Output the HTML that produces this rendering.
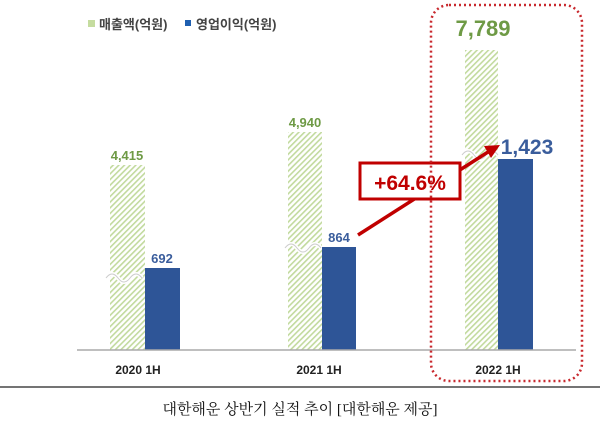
<!DOCTYPE html>
<html><head><meta charset="utf-8"><style>
body{margin:0;background:#fff;width:600px;height:429px;overflow:hidden}
</style></head><body>
<svg width="600" height="429" xmlns="http://www.w3.org/2000/svg" style="font-family:'Liberation Sans','Noto Sans CJK KR',sans-serif">
<defs>
<pattern id="h" patternUnits="userSpaceOnUse" width="4" height="4" patternTransform="rotate(45)">
<rect width="4" height="4" fill="#fff"/><rect width="1.6" height="4" fill="#c2da9e"/>
</pattern>
</defs>
<rect x="88" y="20" width="7" height="7" fill="#c5dc9f"/>
<text x="99" y="29" font-size="13" font-weight="bold" fill="#444">매출액(억원)</text>
<rect x="185" y="20" width="6" height="6" fill="#1f5fb0"/>
<text x="196" y="29" font-size="13" font-weight="bold" fill="#444">영업이익(억원)</text>
<rect x="110" y="165" width="35" height="185" fill="url(#h)"/>
<rect x="145" y="268" width="35" height="82" fill="#2e5597"/>
<rect x="288" y="132" width="34" height="218" fill="url(#h)"/>
<rect x="322" y="247" width="34" height="103" fill="#2e5597"/>
<rect x="465" y="50" width="33" height="300" fill="url(#h)"/>
<rect x="498" y="159" width="35" height="191" fill="#2e5597"/>
<path d="M106 278 q6 -8 12 0 t12 0 t12 0" stroke="#fff" stroke-width="4" fill="none"/>
<path d="M106 278 q6 -8 12 0 t12 0 t12 0" stroke="#ccc" stroke-width="1" fill="none"/>
<path d="M285 248 q6 -8 12 0 t12 0 t12 0" stroke="#fff" stroke-width="4" fill="none"/>
<path d="M285 248 q6 -8 12 0 t12 0 t12 0" stroke="#ccc" stroke-width="1" fill="none"/>
<path d="M462 155 q6 -8 12 0 t12 0 t12 0" stroke="#fff" stroke-width="4" fill="none"/>
<path d="M462 155 q6 -8 12 0 t12 0 t12 0" stroke="#ccc" stroke-width="1" fill="none"/>
<line x1="77" y1="350" x2="576" y2="350" stroke="#aaa" stroke-width="1.5"/>
<g font-weight="bold" text-anchor="middle">
<text x="127" y="160" font-size="13" fill="#6e9a45">4,415</text>
<text x="162" y="263" font-size="13" fill="#3a5d9c">692</text>
<text x="305" y="127" font-size="13" fill="#6e9a45">4,940</text>
<text x="339" y="242" font-size="13" fill="#3a5d9c">864</text>
<text x="483" y="36" font-size="22" fill="#6e9a45">7,789</text>
<text x="527" y="154" font-size="21" fill="#3a5d9c">1,423</text>
<text x="138" y="374" font-size="12" fill="#222">2020 1H</text>
<text x="319" y="374" font-size="12" fill="#222">2021 1H</text>
<text x="498" y="374" font-size="12" fill="#222">2022 1H</text>
</g>
<line x1="358" y1="235" x2="488" y2="152" stroke="#c00000" stroke-width="3.5"/>
<polygon points="500,145 484,146 491,158" fill="#c00000"/>
<rect x="360" y="163" width="100" height="36" fill="#fff" stroke="#c00000" stroke-width="3"/>
<text x="410" y="190" font-size="21" font-weight="bold" fill="#c00000" text-anchor="middle">+64.6%</text>
<rect x="431" y="5" width="151" height="376" rx="18" fill="none" stroke="#c8282d" stroke-width="2.5" stroke-dasharray="2 3"/>
<line x1="0" y1="387" x2="600" y2="387" stroke="#222" stroke-width="1.2"/>
<text x="300" y="414" font-size="15" fill="#111" text-anchor="middle" style="font-family:'Liberation Serif','Noto Serif CJK SC',serif">대한해운 상반기 실적 추이 [대한해운 제공]</text>
</svg>
</body></html>
